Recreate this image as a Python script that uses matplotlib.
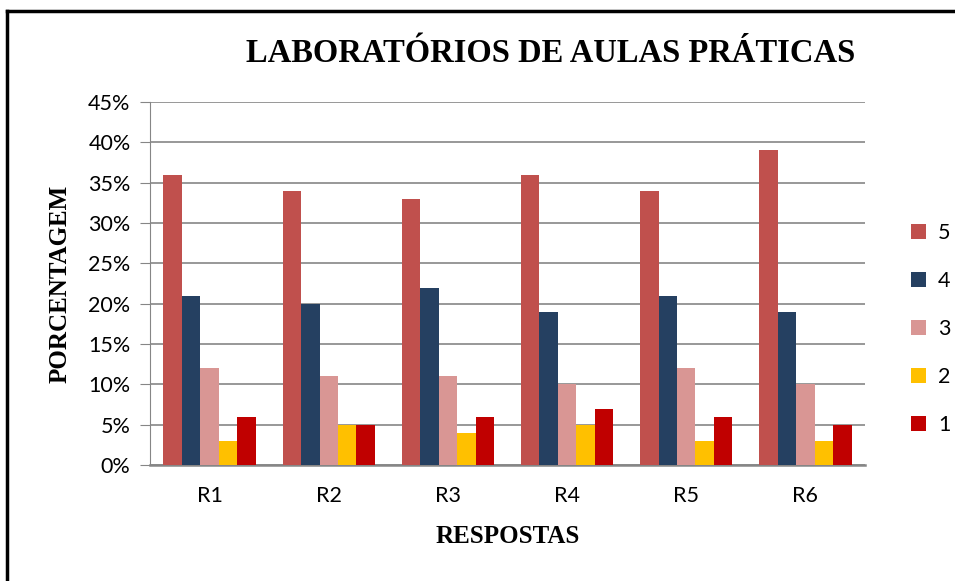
import matplotlib.pyplot as plt
import numpy as np
from matplotlib.lines import Line2D
from matplotlib.ticker import PercentFormatter

categories = ['R1', 'R2', 'R3', 'R4', 'R5', 'R6']
series_names = ['5', '4', '3', '2', '1']
s5 = [36, 34, 33, 36, 34, 39]
s4 = [21, 20, 22, 19, 21, 19]
s3 = [12, 11, 11, 10, 12, 10]
s2 = [3, 5, 4, 5, 3, 3]
s1 = [6, 5, 6, 7, 6, 5]
colors = ['#C0504D', '#254061', '#D99694', '#FFC000', '#C00000']

tick_font = 'Lato'
serif = 'Liberation Serif'

fig = plt.figure(figsize=(9.55, 5.81), dpi=100)
ax = fig.add_axes([150 / 955, 116 / 581, 715 / 955, 363 / 581])

x = np.arange(len(categories))
w = 0.155
for i, (name, vals) in enumerate(zip(series_names, [s5, s4, s3, s2, s1])):
    ax.bar(x + (i - 2) * w, vals, w, color=colors[i], label=name, zorder=3)

ax.set_xlim(-0.5, 5.5)
ax.set_ylim(0, 45)
ax.set_yticks(np.arange(0, 46, 5))
ax.yaxis.set_major_formatter(PercentFormatter(decimals=0))
ax.set_xticks(x)
ax.set_xticklabels(categories)
ax.grid(axis='y', color='#868686', linewidth=1.2, zorder=0)

for side in ['top', 'right']:
    ax.spines[side].set_visible(False)
ax.spines['left'].set_color('#868686')
ax.spines['bottom'].set_color('#868686')
ax.spines['bottom'].set_linewidth(1.8)
ax.tick_params(axis='y', length=7, color='#868686', pad=7, labelsize=15.5)
ax.tick_params(axis='x', length=0, pad=15, labelsize=15.5)
for lab in ax.get_xticklabels() + ax.get_yticklabels():
    lab.set_fontfamily(tick_font)

ax.set_xlabel('RESPOSTAS', fontfamily=serif, fontweight='bold', fontsize=18, labelpad=14)
ax.set_ylabel('PORCENTAGEM', fontfamily=serif, fontweight='bold', fontsize=18, labelpad=12)

fig.text(551 / 955, 1 - 53 / 581, 'LABORATÓRIOS DE AULAS PRÁTICAS', ha='center', va='center',
         fontfamily=serif, fontweight='bold', fontsize=23.5)

leg = fig.legend(loc='center left', bbox_to_anchor=(892 / 955, 1 - 329 / 581), frameon=False,
                 handlelength=0.68, handleheight=0.68, labelspacing=1.3, handletextpad=0.55,
                 prop={'family': tick_font, 'size': 15.5})

# border of the chart area (left and top edges only)
fig.add_artist(Line2D([7 / 955, 7 / 955], [0, 1 - 11 / 581], color='black', linewidth=2.5))
fig.add_artist(Line2D([7 / 955, 1], [1 - 11 / 581, 1 - 11 / 581], color='black', linewidth=2.5))

fig.savefig('out.png', dpi=100)
